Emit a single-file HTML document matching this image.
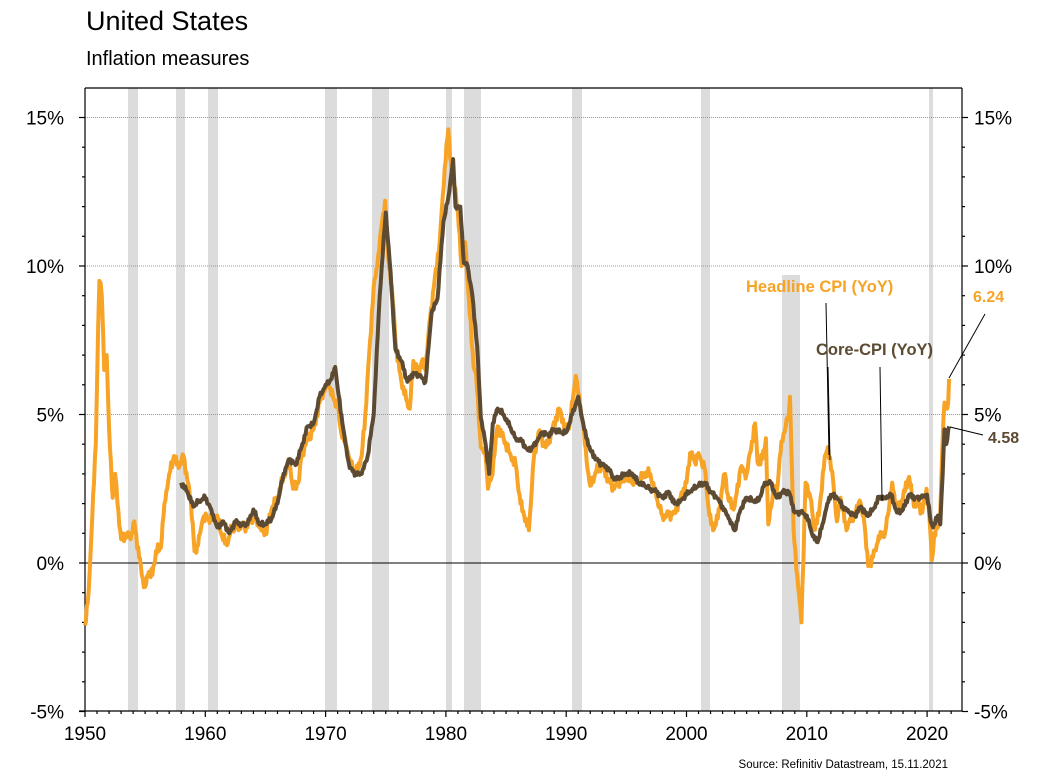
<!DOCTYPE html>
<html><head><meta charset="utf-8"><style>
html,body{margin:0;padding:0;background:#fff;}
svg{display:block;font-family:"Liberation Sans",Arial,sans-serif;}
</style></head><body>
<svg id="c" width="1050" height="784" viewBox="0 0 1050 784" xmlns="http://www.w3.org/2000/svg">
<text x="86" y="30" font-size="27" fill="#000">United States</text>
<text x="86" y="65" font-size="20" fill="#000">Inflation measures</text>
<g id="rec" fill="#dcdcdc"></g>
<g id="grid" stroke="#999" stroke-width="1" stroke-dasharray="1,1"></g>
<line x1="85" y1="563" x2="962" y2="563" stroke="#000" stroke-width="1"/>
<g id="axes" stroke="#000" stroke-width="1.2"></g>
<g id="labels" font-size="19" fill="#000"></g>
<path id="head" fill="none" stroke="#F7A325" stroke-width="4" stroke-linejoin="round"/>
<path id="core" fill="none" stroke="#5C4A32" stroke-width="4" stroke-linejoin="round"/>
<g stroke="#000" stroke-width="1">
<line x1="826" y1="303" x2="829" y2="455"/>
<line x1="828" y1="367" x2="830" y2="460"/>
<line x1="880" y1="367" x2="882" y2="500"/>
<line x1="985" y1="314" x2="949" y2="378"/>
<line x1="950" y1="427" x2="983" y2="435"/>
</g>
<text x="746" y="292" font-size="16.5" font-weight="bold" fill="#F7A325">Headline CPI (YoY)</text>
<text x="816" y="355" font-size="16.5" font-weight="bold" fill="#5C4A32">Core-CPI (YoY)</text>
<text x="973" y="302" font-size="16" font-weight="bold" fill="#F7A325">6.24</text>
<text x="988" y="443" font-size="16" font-weight="bold" fill="#5C4A32">4.58</text>
<text x="948" y="768" font-size="11.5" text-anchor="end" fill="#000">Source: Refinitiv Datastream, 15.11.2021</text>
</svg>
<script>
var X=function(y){return 85+(y-1950)*12.03;};
var Y=function(v){return 563-v*29.7;};
var NS="http://www.w3.org/2000/svg";
function el(p,t,a,txt){var e=document.createElementNS(NS,t);for(var k in a)e.setAttribute(k,a[k]);if(txt)e.textContent=txt;document.getElementById(p).appendChild(e);}
[[128,138,88],[176,185,88],[208,218,88],[325,337,88],[372,389,88],[446,452,88],[464,481,88],[572,582,88],[701,710,88],[782,800,275],[929,933,88]].forEach(function(r){el("rec","rect",{x:r[0],y:r[2],width:r[1]-r[0],height:711-r[2]});});
[15,10,5].forEach(function(v){el("grid","line",{x1:85,x2:962,y1:Y(v),y2:Y(v)});});
el("axes","line",{x1:85,y1:88,x2:962,y2:88});
el("axes","line",{x1:85,y1:88,x2:85,y2:711});
el("axes","line",{x1:962,y1:88,x2:962,y2:711});
el("axes","line",{x1:79,y1:711,x2:962,y2:711});
for(var v=-5;v<=15;v++){var big=v%5==0;el("axes","line",{x1:big?79:82,x2:85,y1:Y(v),y2:Y(v)});el("axes","line",{x1:962,x2:big?968:965,y1:Y(v),y2:Y(v)});}
for(var y=1950;y<=2022;y++){var big=y%10==0;el("axes","line",{x1:X(y),x2:X(y),y1:711,y2:big?717:714});}
[15,10,5,0,-5].forEach(function(v){el("labels","text",{x:64,y:Y(v)+7,"text-anchor":"end"},v+"%");el("labels","text",{x:974,y:Y(v)+7},v+"%");});
for(var y=1950;y<=2020;y+=10)el("labels","text",{x:X(y),y:740,"text-anchor":"middle"},""+y);
var H=[1950,-2.1,1950.3,-1.0,1950.6,1.5,1950.9,4,1951.1,8,1951.2,9.5,1951.4,9.0,1951.6,6.5,1951.8,7.0,1952,4.5,1952.3,2.2,1952.5,3,1952.7,2,1953,0.8,1953.5,1,1953.8,0.8,1954.1,1.4,1954.5,0.2,1954.8,-0.5,1955,-0.8,1955.3,-0.3,1955.6,-0.4,1955.9,0.4,1956.3,0.5,1956.6,2.0,1957,3,1957.4,3.6,1957.8,3.2,1958.2,3.6,1958.5,2.8,1958.8,2.1,1959.1,0.4,1959.4,0.6,1959.8,1.5,1960.2,1.5,1960.6,1.5,1961,1.6,1961.4,0.9,1961.8,0.6,1962.2,1.2,1962.6,1.2,1963,1.3,1963.5,1.2,1964,1.6,1964.5,1.2,1965,1.0,1965.5,1.8,1966,2.2,1966.5,2.9,1967,3.4,1967.3,2.5,1967.8,2.8,1968,3.6,1968.5,4.2,1969,4.5,1969.5,5.4,1970,6.0,1970.3,5.9,1970.7,5.5,1971,5.3,1971.3,4.4,1971.7,4.0,1972,3.5,1972.5,3.0,1973,3.6,1973.3,5.0,1973.7,7.5,1974,9.3,1974.3,10.0,1974.7,11.5,1974.95,12.2,1975.2,10.3,1975.5,9.3,1975.9,7.1,1976.3,6.1,1976.7,5.5,1977,5.2,1977.3,6.8,1977.7,6.4,1978,6.8,1978.3,6.5,1978.7,8.3,1979,9.3,1979.5,10.9,1979.9,13.3,1980.2,14.6,1980.5,13.0,1980.8,12.6,1981,11.8,1981.3,10.0,1981.6,10.8,1981.9,8.9,1982.3,6.6,1982.5,6.4,1982.9,3.9,1983.3,3.6,1983.5,2.5,1983.8,2.9,1984.3,4.6,1984.8,4.2,1985.3,3.7,1985.8,3.3,1986.2,2.0,1986.5,1.6,1986.9,1.1,1987.3,3.5,1987.7,4.4,1988.3,3.9,1988.8,4.4,1989.4,5.2,1989.9,4.6,1990.3,4.7,1990.8,6.3,1991,5.7,1991.4,4.7,1991.7,3.4,1992,2.6,1992.5,3.1,1993,3.3,1993.5,2.8,1994,2.5,1994.5,2.8,1995,2.8,1995.5,2.8,1996,2.7,1996.5,3.0,1997,3.0,1997.5,2.2,1998,1.6,1998.5,1.6,1999,1.7,1999.5,2.2,2000,2.7,2000.3,3.7,2000.7,3.4,2001,3.7,2001.5,3.2,2001.9,1.6,2002.2,1.1,2002.6,1.5,2003,2.6,2003.2,3.0,2003.5,2.1,2004,1.9,2004.5,3.2,2005,3.0,2005.7,4.7,2005.9,3.4,2006.3,3.5,2006.6,4.2,2006.8,1.3,2007.2,2.4,2007.5,2.4,2007.9,4.1,2008.5,5.0,2008.6,5.6,2008.9,1.1,2009.2,-0.4,2009.55,-2.0,2009.9,2.7,2010.3,2.2,2010.6,1.2,2011,1.6,2011.5,3.6,2011.75,3.9,2012.2,2.7,2012.5,1.4,2012.8,2.2,2013.3,1.1,2013.6,1.5,2014,1.6,2014.4,2.1,2014.8,1.3,2015.1,-0.1,2015.5,0.2,2015.9,0.7,2016.2,1.0,2016.5,1.0,2016.9,2.1,2017.1,2.7,2017.5,1.7,2017.9,2.1,2018.5,2.9,2018.9,1.9,2019.3,2.0,2019.6,1.7,2019.95,2.5,2020.2,1.5,2020.4,0.1,2020.6,1.0,2020.9,1.2,2021.1,1.7,2021.3,4.2,2021.45,5.4,2021.6,5.3,2021.75,5.4,2021.83,6.2];
var C=[1958,2.7,1958.5,2.4,1959,1.9,1959.5,2.1,1960,2.2,1960.5,1.8,1960.9,1.3,1961,1.2,1961.5,1.4,1962,1.0,1962.5,1.4,1963,1.3,1963.5,1.3,1964,1.8,1964.5,1.3,1965,1.3,1965.5,1.5,1966,2.0,1966.5,3.0,1967,3.5,1967.5,3.3,1968,3.9,1968.5,4.6,1969,4.7,1969.5,5.6,1970,6.0,1970.5,6.2,1970.8,6.6,1971,5.9,1971.4,4.7,1971.8,3.6,1972,3.2,1972.5,3.0,1973,3.0,1973.5,3.6,1974,5.0,1974.5,9.0,1975,11.8,1975.4,9.8,1975.8,7.2,1976.3,6.8,1976.8,6.1,1977.3,6.4,1977.8,6.3,1978.3,6.1,1978.8,8.4,1979.3,8.9,1979.8,11.5,1980.2,12.3,1980.6,13.6,1980.8,12.0,1981.2,12.0,1981.5,10.1,1981.8,10.0,1982.2,9.0,1982.6,7.3,1982.9,4.9,1983.3,4.0,1983.6,3.0,1983.9,4.7,1984.3,5.2,1984.8,5.0,1985.3,4.6,1985.8,4.2,1986.3,4.1,1986.8,3.8,1987.2,3.9,1987.6,4.1,1988,4.4,1988.5,4.3,1989,4.5,1989.5,4.4,1990,4.4,1990.5,5.0,1991,5.6,1991.5,4.5,1992,3.8,1992.5,3.5,1993,3.3,1993.5,3.2,1994,2.8,1994.5,2.9,1995,3.0,1995.5,3.0,1996,2.7,1996.5,2.6,1997,2.5,1997.5,2.4,1998,2.2,1998.5,2.4,1999,2.0,1999.5,2.1,2000,2.3,2000.5,2.5,2001,2.6,2001.5,2.7,2002,2.4,2002.5,2.2,2003,1.9,2003.5,1.5,2004,1.1,2004.5,1.8,2005,2.2,2005.5,2.1,2006,2.1,2006.5,2.7,2007,2.7,2007.5,2.2,2008,2.4,2008.5,2.4,2009,1.7,2009.5,1.7,2010,1.6,2010.5,0.9,2010.9,0.7,2011.3,1.3,2011.7,2.0,2012,2.3,2012.5,2.2,2013,1.9,2013.5,1.7,2014,1.6,2014.5,1.9,2015,1.6,2015.5,1.8,2016,2.2,2016.5,2.2,2017,2.3,2017.5,1.7,2018,1.8,2018.5,2.3,2019,2.2,2019.5,2.2,2020,2.3,2020.3,1.4,2020.5,1.2,2020.9,1.6,2021.1,1.3,2021.3,3.0,2021.45,4.5,2021.6,4.0,2021.83,4.6];
function dense(a,amp){var out=[];var n=0;for(var i=0;i<a.length-2;i+=2){var x0=a[i],y0=a[i+1],x1=a[i+2],y1=a[i+3];var steps=Math.max(1,Math.round((x1-x0)*12));for(var s=0;s<steps;s++){var t=s/steps;n++;var j=(s==0)?0:amp*(Math.sin(n*2.7)+0.6*Math.sin(n*5.3));out.push(x0+(x1-x0)*t,y0+(y1-y0)*t+j);}}out.push(a[a.length-2],a[a.length-1]);return out;}
function path(a){var d="";for(var i=0;i<a.length;i+=2)d+=(i?"L":"M")+X(a[i]).toFixed(1)+","+Y(a[i+1]).toFixed(1);return d;}
document.getElementById("head").setAttribute("d",path(dense(H,0.12)));
document.getElementById("core").setAttribute("d",path(dense(C,0.06)));
</script>
</body></html>
